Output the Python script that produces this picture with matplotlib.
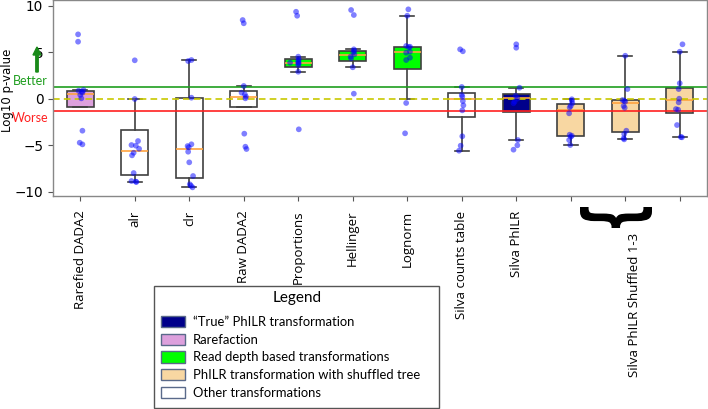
import matplotlib
matplotlib.use("Agg")
import matplotlib.pyplot as plt
from matplotlib.patches import Patch, PathPatch, Rectangle, FancyArrow
from matplotlib.textpath import TextPath
from matplotlib.font_manager import FontProperties
from matplotlib.transforms import Affine2D
import numpy as np

# ---------------- data ----------------
categories = ["Rarefied DADA2", "alr", "clr", "Raw DADA2", "Proportions", "Hellinger",
              "Lognorm", "Silva counts table", "Silva PhILR", "", "", ""]
group_label = "Silva PhILR Shuffled 1-3"

points = [
    [6.92, 6.13, 0.94, 0.86, 0.75, 0.65, 0.40, 0.04, -3.44, -4.73, -4.91],
    [4.13, -0.03, -4.55, -4.98, -5.05, -5.38, -5.81, -6.09, -7.99, -8.85, -8.92, -8.95],
    [4.16, 4.05, 0.11, -4.90, -5.09, -5.23, -5.70, -6.84, -8.31, -9.20, -9.35, -9.53],
    [8.46, 8.11, 1.37, 0.65, 0.47, 0.22, 0.04, -3.76, -5.16, -5.41],
    [9.35, 8.92, 4.52, 4.24, 4.05, 3.87, 3.87, 3.81, 3.62, 2.90, -3.29],
    [9.54, 9.00, 5.31, 5.16, 4.99, 4.77, 4.52, 4.34, 3.38, 0.54],
    [9.61, 8.92, 5.67, 5.59, 5.53, 5.05, 4.95, 4.41, 4.16, -0.46, -3.72],
    [5.31, 5.10, 1.26, 0.40, 0.22, -0.25, -0.71, -1.25, -4.04, -5.05, -5.59],
    [5.85, 5.48, 1.18, 0.32, 0.00, -0.32, -0.49, -4.44, -5.01, -5.48],
    [-0.06, -0.22, -0.49, -0.78, -0.93, -1.57, -3.87, -3.98, -4.09, -4.44, -4.98],
    [4.62, 1.04, -0.14, -0.22, -0.32, -0.78, -0.97, -3.44, -3.80, -4.26, -4.37],
    [5.85, 5.05, 1.66, 1.04, 0.00, -0.39, -1.11, -1.18, -2.83, -4.12, -4.15],
]
# horizontal jitter of each point (category units)
jitter = [
    [-0.04, -0.04, 0.06, -0.03, 0.03, 0.04, 0.00, 0.02, 0.04, -0.01, 0.04],
    [0.00, 0.00, 0.06, -0.06, 0.02, 0.08, -0.02, -0.05, -0.02, -0.06, 0.02, 0.03],
    [0.04, -0.02, 0.04, 0.04, -0.03, -0.01, -0.02, 0.00, 0.07, 0.01, 0.03, 0.06],
    [-0.02, 0.00, 0.00, -0.04, 0.02, 0.04, 0.03, 0.01, 0.03, 0.05],
    [-0.04, -0.02, 0.00, 0.01, 0.00, 0.00, -0.15, 0.01, 0.00, 0.00, 0.01],
    [-0.03, 0.02, 0.02, 0.03, 0.01, 0.03, -0.04, -0.03, 0.00, 0.02],
    [0.02, 0.00, -0.02, 0.05, 0.03, 0.05, -0.02, 0.05, -0.02, -0.02, -0.04],
    [-0.03, 0.02, 0.00, 0.00, 0.01, 0.02, 0.03, 0.01, 0.01, -0.02, -0.05],
    [0.00, 0.00, 0.06, -0.01, 0.02, -0.03, -0.05, 0.03, 0.02, -0.05],
    [0.02, 0.02, 0.03, 0.00, -0.02, -0.03, -0.02, 0.02, 0.00, -0.03, -0.01],
    [0.00, 0.04, -0.05, -0.02, 0.00, -0.03, -0.01, 0.02, -0.02, -0.03, -0.02],
    [0.05, 0.00, 0.00, -0.02, -0.01, -0.02, -0.07, -0.03, -0.05, 0.02, 0.04],
]
# box statistics
q1 = [-0.86, -8.20, -8.56, -0.92, 3.37, 4.02, 3.16, -1.97, -1.46, -4.05, -3.58, -1.57]
med = [0.47, -5.59, -5.44, 0.22, 3.87, 4.70, 4.99, -0.03, 0.04, -1.22, -0.49, -0.14]
q3 = [0.86, -3.40, 0.04, 0.86, 4.24, 5.16, 5.56, 0.58, 0.51, -0.54, -0.11, 1.18]
whislo = [-0.86, -8.95, -9.53, -0.92, 2.90, 3.38, 0.00, -5.59, -4.41, -5.01, -4.37, -4.12]
whishi = [0.94, 0.00, 4.16, 1.37, 4.45, 5.31, 8.92, 1.26, 1.18, 0.00, 4.62, 5.05]
box_kind = ["rare", "other", "other", "other", "depth", "depth", "depth", "other", "true",
            "shuf", "shuf", "shuf"]

kind_colors = {"true": "#00008b", "rare": "#dda0dd", "depth": "#00ff00",
               "shuf": "#f8d7a2", "other": "#ffffff"}
legend_kinds = ["true", "rare", "depth", "shuf", "other"]
legend_labels = ["\u201cTrue\u201d PhILR transformation", "Rarefaction",
                 "Read depth based transformations", "PhILR transformation with shuffled tree",
                 "Other transformations"]
sig_level = 1.301  # -log10(0.05)

# ---------------- figure ----------------
W, H = 708, 409
fig = plt.figure(figsize=(W / 100, H / 100), dpi=100)
ax = fig.add_axes([53 / W, 1 - 196 / H, 654 / W, 195.5 / H])

positions = np.arange(1, len(categories) + 1)
stats = []
for i in range(len(categories)):
    stats.append(dict(q1=q1[i], med=med[i], q3=q3[i], whislo=whislo[i], whishi=whishi[i],
                      fliers=[]))
bp = ax.bxp(stats, positions=positions, widths=0.5, patch_artist=True, showfliers=False,
            boxprops=dict(edgecolor="#404040", linewidth=1.2),
            whiskerprops=dict(color="#404040", linewidth=1.2),
            capprops=dict(color="#404040", linewidth=1.2),
            medianprops=dict(color="#ffa340", linewidth=1.2), zorder=1)
for patch, k in zip(bp["boxes"], box_kind):
    patch.set_facecolor(kind_colors[k])

ax.axhline(sig_level, color="#1f9e1f", lw=1.2, zorder=2)
ax.axhline(-sig_level, color="#ff2020", lw=1.2, zorder=2)
ax.axhline(0, color="#c8c800", lw=1.2, ls=(0, (4, 2.5)), zorder=2)

for i, (vals, jit) in enumerate(zip(points, jitter)):
    xs = positions[i] + np.array(jit)
    ax.scatter(xs, vals, s=17, color="blue", alpha=0.5, edgecolors="none", zorder=3)

ax.set_xlim(0.5, 12.5)
ax.set_ylim(-10.46, 10.56)
ax.set_yticks([-10, -5, 0, 5, 10])
ax.tick_params(axis="y", labelsize=9.8, length=3.5, color="#555555")
ax.tick_params(axis="x", length=3.5, color="#555555", pad=7)
ax.set_xticks(positions)
ax.set_xticklabels(categories, rotation=90, fontsize=9.5, family="Open Sans")
for sp in ax.spines.values():
    sp.set_color("#888888")
    sp.set_linewidth(1.0)
ax.set_ylabel("Log10 p-value", fontsize=8.5)
ax.yaxis.set_label_coords(-(53 - 14) / 654, 0.54)

# Better / Worse annotations
fig.text(30 / W, 1 - 81 / H, "Better", color="#1f9e1f", fontsize=9, family="Lato",
         ha="center", va="center")
fig.text(30 / W, 1 - 118 / H, "Worse", color="#ff2020", fontsize=9, family="Lato",
         ha="center", va="center")
fig.add_artist(FancyArrow(37 / W, 1 - 72 / H, 0, 25 / H, width=2.4 / W, head_width=8 / W,
                          head_length=8 / H, length_includes_head=True,
                          color="#1a8a1a", transform=fig.transFigure))

# curly brace grouping the shuffled-tree columns
tp = TextPath((0, 0), "}", size=1, prop=FontProperties(family="DejaVu Sans", weight="bold"))
tp = tp.transformed(Affine2D().rotate_deg(-90))
ext = tp.get_extents()
bx0, bx1, by0, by1 = 580 / W, 652 / W, 1 - 228 / H, 1 - 207 / H
brace_tf = (Affine2D().translate(-ext.x0, -ext.y0)
            .scale((bx1 - bx0) / ext.width, (by1 - by0) / ext.height)
            .translate(bx0, by0))
fig.add_artist(PathPatch(tp.transformed(brace_tf), transform=fig.transFigure,
                         facecolor="black", edgecolor="none"))
fig.text(635 / W, 1 - 233 / H, group_label, rotation=90, fontsize=9.5, family="Open Sans",
         ha="center", va="top")

# legend
handles = [Patch(facecolor=kind_colors[k], edgecolor="#5a6a8a", linewidth=1.0)
           for k in legend_kinds]
leg = fig.legend(handles, legend_labels, title="Legend", loc="upper left",
                 bbox_to_anchor=(161 / W, 1 - 291 / H, 272 / W, 0), mode="expand",
                 prop=dict(family="Lato", size=9.4), frameon=False,
                 handlelength=1.85, handleheight=0.95, labelspacing=0.42,
                 handletextpad=0.6, borderpad=0.0, borderaxespad=0)
leg.get_title().set_fontfamily("Lato")
leg.get_title().set_fontsize(11)
leg._legend_box.sep = 8
fig.add_artist(Rectangle((154 / W, 1 - 408 / H), 285 / W, 122 / H, transform=fig.transFigure,
                         fill=False, edgecolor="#555555", linewidth=1.0))

fig.savefig("out.png", dpi=100)
